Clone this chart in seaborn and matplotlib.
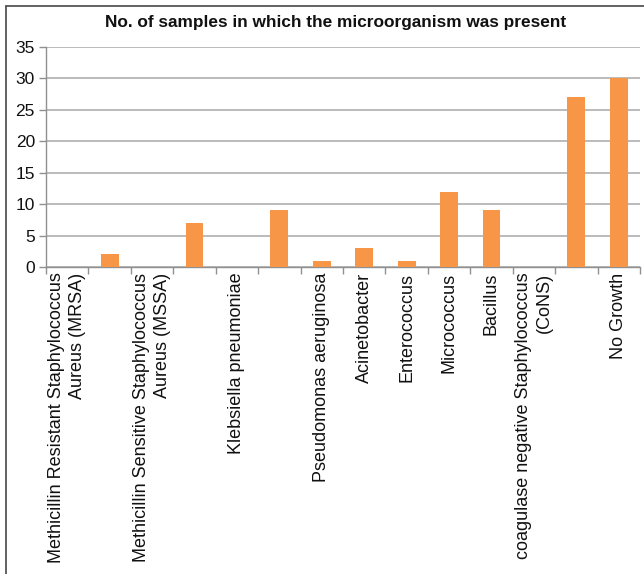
import matplotlib
matplotlib.use("Agg")
import matplotlib.pyplot as plt
from matplotlib.lines import Line2D
import numpy as np
import pandas as pd
import seaborn as sns

# Category slots along the x axis (some slots carry no label)
labels = [
    "Methicillin Resistant Staphylococcus\nAureus (MRSA)",
    "",
    "Methicillin Sensitive Staphylococcus\nAureus (MSSA)",
    "",
    "Klebsiella pneumoniae",
    "",
    "Pseudomonas aeruginosa",
    "Acinetobacter",
    "Enterococcus",
    "Micrococcus",
    "Bacillus",
    "coagulase negative Staphylococcus\n(CoNS)",
    "",
    "No Growth",
]
counts = [0, 2, 0, 7, 0, 9, 1, 3, 1, 12, 9, 0, 27, 30]
y_ticks = [0, 5, 10, 15, 20, 25, 30, 35]
title = "No. of samples in which the microorganism was present"

sns.set_theme(style="white")
plt.rcParams["font.family"] = ["Liberation Sans", "DejaVu Sans"]

df = pd.DataFrame({"slot": np.arange(len(counts)), "count": counts})

fig = plt.figure(figsize=(6.44, 5.74), dpi=100)
ax = fig.add_axes([46 / 644, 1 - 267 / 574, (640 - 46) / 644, (267 - 47) / 574])

sns.barplot(data=df, x="slot", y="count", order=list(df["slot"]),
            color="#F79646", saturation=1, width=0.42, ax=ax, zorder=3)
for p in ax.patches:
    p.set_edgecolor("none")

ax.set_xlim(-0.5, len(counts) - 0.5)
ax.set_ylim(0, 35)
ax.set_yticks(y_ticks)
ax.set_yticklabels([str(v) for v in y_ticks], fontsize=12.5, color="#111111")
ax.yaxis.grid(True, color="#a8a8a8", linewidth=1.1)
ax.set_axisbelow(True)

ax.set_xticks(np.arange(len(counts)))
ax.set_xticklabels(labels, rotation=90, fontsize=13, color="#111111",
                   va="top", ha="center", multialignment="right",
                   linespacing=1.3)
ax.set_xticks(np.arange(len(counts) + 1) - 0.5, minor=True)
ax.tick_params(axis="x", which="major", length=0, pad=4)
ax.tick_params(axis="x", which="minor", length=5, width=1, color="#909090",
               direction="out", bottom=True)
ax.tick_params(axis="y", length=5, width=1, color="#909090", direction="out",
               left=True, pad=3)
ax.set_xlabel("")
ax.set_ylabel("")

for side in ("top", "right"):
    ax.spines[side].set_visible(False)
for side in ("left", "bottom"):
    ax.spines[side].set_color("#909090")
    ax.spines[side].set_linewidth(1)

fig.text(336 / 644, 1 - 22 / 574, title, ha="center", va="center",
         fontsize=12.4, fontweight="bold", color="#111111")

# outer chart-area border
fig.add_artist(Line2D([6 / 644, 1.0], [1 - 6 / 574, 1 - 6 / 574],
                      transform=fig.transFigure, color="#555555", linewidth=1.3))
fig.add_artist(Line2D([6 / 644, 6 / 644], [0.0, 1 - 6 / 574],
                      transform=fig.transFigure, color="#555555", linewidth=1.3))

fig.savefig("out.png", dpi=100, facecolor="white")
